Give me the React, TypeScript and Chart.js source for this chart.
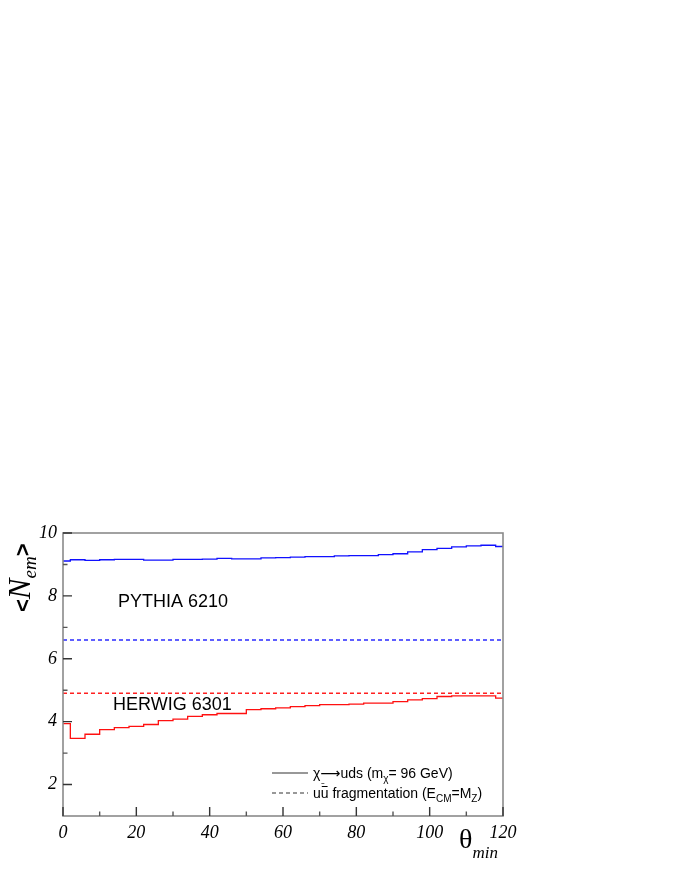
import React, { useEffect, useRef } from "react";
import { Chart, registerables } from "chart.js";

Chart.register(...registerables);

// Bin edges in theta_min (degrees); one value per bin
const thetaEdges = [0, 2, 6, 10, 14, 18, 22, 26, 30, 34, 38, 42, 46, 50, 54, 58, 62, 66, 70, 74, 78, 82, 86, 90, 94, 98, 102, 106, 110, 114, 118, 120];

const pythiaValues = [9.11, 9.15, 9.13, 9.15, 9.16, 9.16, 9.14, 9.14, 9.16, 9.16, 9.17, 9.19, 9.18, 9.18, 9.21, 9.22, 9.23, 9.25, 9.25, 9.27, 9.28, 9.28, 9.31, 9.34, 9.40, 9.47, 9.51, 9.56, 9.59, 9.61, 9.57];

const herwigValues = [3.94, 3.47, 3.60, 3.75, 3.81, 3.85, 3.91, 4.03, 4.08, 4.17, 4.22, 4.26, 4.26, 4.38, 4.41, 4.44, 4.48, 4.51, 4.54, 4.54, 4.56, 4.59, 4.59, 4.64, 4.69, 4.73, 4.80, 4.82, 4.82, 4.82, 4.75];

const pythiaFragmentation = 6.6;
const herwigFragmentation = 4.9;

const xRange = [0, 120];
const yRange = [1, 10];
const xMajorTicks = [0, 20, 40, 60, 80, 100, 120];
const xMinorTicks = [10, 30, 50, 70, 90, 110];
const yMajorTicks = [2, 4, 6, 8, 10];
const yMinorTicks = [3, 5, 7, 9];

const SANS = '"Liberation Sans", Arial, Helvetica, sans-serif';
const SERIF = '"Liberation Serif", "Times New Roman", Times, serif';
const SYMBOL = '"DejaVu Sans", sans-serif';

function stepPoints(values: number[]) {
  const pts = values.map((v, i) => ({ x: thetaEdges[i], y: v }));
  pts.push({ x: thetaEdges[thetaEdges.length - 1], y: values[values.length - 1] });
  return pts;
}

type Part = { t: string; font: string; dy?: number; overbar?: boolean };

function drawRich(ctx: CanvasRenderingContext2D, x: number, y: number, parts: Part[]) {
  let cx = x;
  const pos: number[] = [];
  for (const p of parts) {
    ctx.font = p.font;
    ctx.fillText(p.t, cx, y + (p.dy || 0));
    const w = ctx.measureText(p.t).width;
    if (p.overbar) {
      ctx.save();
      ctx.lineWidth = 1;
      ctx.beginPath();
      ctx.moveTo(cx + 1, y - 11.5);
      ctx.lineTo(cx + w - 1, y - 11.5);
      ctx.stroke();
      ctx.restore();
    }
    pos.push(cx);
    cx += w;
  }
  return pos;
}

const decorPlugin = {
  id: "decor",
  afterDatasetsDraw(chart: any) {
    const ctx: CanvasRenderingContext2D = chart.ctx;
    const { left, right, top, bottom } = chart.chartArea;
    const xs = chart.scales.x;
    const ys = chart.scales.y;
    ctx.save();
    // frame
    ctx.strokeStyle = "#8a8a8a";
    ctx.lineWidth = 1.6;
    ctx.strokeRect(left, top, right - left, bottom - top);

    // ticks (inward)
    ctx.lineWidth = 1.4;
    ctx.strokeStyle = "#333";
    ctx.beginPath();
    for (const v of yMajorTicks) {
      const p = ys.getPixelForValue(v);
      ctx.moveTo(left, p);
      ctx.lineTo(left + 9, p);
    }
    for (const v of xMajorTicks) {
      const p = xs.getPixelForValue(v);
      ctx.moveTo(p, bottom);
      ctx.lineTo(p, bottom - 9);
    }
    ctx.stroke();
    ctx.strokeStyle = "#555";
    ctx.beginPath();
    for (const v of yMinorTicks) {
      const p = ys.getPixelForValue(v);
      ctx.moveTo(left, p);
      ctx.lineTo(left + 4.5, p);
    }
    for (const v of xMinorTicks) {
      const p = xs.getPixelForValue(v);
      ctx.moveTo(p, bottom);
      ctx.lineTo(p, bottom - 4.5);
    }
    ctx.stroke();

    // generator labels
    ctx.fillStyle = "#000";
    ctx.textBaseline = "middle";
    ctx.textAlign = "left";
    ctx.font = `18px ${SANS}`;
    ctx.fillText("PYTHIA 6210", left + 55, top + 69);
    ctx.fillText("HERWIG 6301", left + 50, top + 172);

    // legend
    ctx.textBaseline = "alphabetic";
    const lx0 = left + 209;
    const lx1 = left + 245;
    const tx = left + 250;
    const ly1 = top + 240;
    const ly2 = top + 260;
    ctx.strokeStyle = "#333";
    ctx.lineWidth = 1.1;
    ctx.beginPath();
    ctx.moveTo(lx0, ly1);
    ctx.lineTo(lx1, ly1);
    ctx.stroke();
    ctx.setLineDash([4, 3]);
    ctx.beginPath();
    ctx.moveTo(lx0, ly2);
    ctx.lineTo(lx1, ly2);
    ctx.stroke();
    ctx.setLineDash([]);

    const f = `14px ${SANS}`;
    const fs = `10px ${SANS}`;
    ctx.fillStyle = "#000";
    const p1 = drawRich(ctx, tx, ly1 + 5, [
      { t: "\u03c7", font: f },
      { t: "\u27f6", font: `14px ${SYMBOL}` },
      { t: "uds (m", font: f },
      { t: "\u03c7", font: fs, dy: 4 },
      { t: "= 96 GeV)", font: f },
    ]);
    ctx.strokeStyle = "#666";
    ctx.lineWidth = 1;
    ctx.beginPath();
    ctx.moveTo(p1[1] + 1, ly1 + 10.5);
    ctx.lineTo(p1[1] + 4, ly1 + 10.5);
    ctx.stroke();
    ctx.strokeStyle = "#000";
    drawRich(ctx, tx, ly2 + 5, [
      { t: "u", font: f },
      { t: "u", font: f, overbar: true },
      { t: " fragmentation (E", font: f },
      { t: "CM", font: fs, dy: 4 },
      { t: "=M", font: f },
      { t: "Z", font: fs, dy: 4 },
      { t: ")", font: f },
    ]);

    // x axis title: theta_min
    ctx.fillStyle = "#000";
    drawRich(ctx, left + 396, bottom + 32, [
      { t: "\u03b8", font: `28px ${SERIF}` },
      { t: "min", font: `italic 17px ${SERIF}`, dy: 10 },
    ]);

    // y axis title: <N_em>
    ctx.save();
    ctx.translate(30, top + 79);
    ctx.rotate(-Math.PI / 2);
    drawRich(ctx, 0, 0, [
      { t: "<", font: `bold 22px ${SANS}` },
      { t: "N", font: `italic 31px ${SERIF}` },
      { t: "em", font: `italic 19px ${SERIF}`, dy: 6 },
      { t: ">", font: `bold 22px ${SANS}` },
    ]);
    ctx.restore();

    ctx.restore();
  },
};

export default function App() {
  const canvasRef = useRef<HTMLCanvasElement | null>(null);

  useEffect(() => {
    if (!canvasRef.current) return;
    const tickFont = { family: SERIF, size: 18, style: "italic" as const };
    const chart = new Chart(canvasRef.current, {
      type: "line",
      data: {
        datasets: [
          {
            label: "PYTHIA 6210",
            data: stepPoints(pythiaValues),
            borderColor: "#1010ff",
            borderWidth: 1.3,
            pointRadius: 0,
            stepped: true,
            fill: false,
          },
          {
            label: "HERWIG 6301",
            data: stepPoints(herwigValues),
            borderColor: "#ff1010",
            borderWidth: 1.3,
            pointRadius: 0,
            stepped: true,
            fill: false,
          },
          {
            label: "PYTHIA uu fragmentation",
            data: [
              { x: xRange[0], y: pythiaFragmentation },
              { x: xRange[1], y: pythiaFragmentation },
            ],
            borderColor: "#2a2aff",
            borderWidth: 1.5,
            borderDash: [4, 3],
            pointRadius: 0,
            fill: false,
          },
          {
            label: "HERWIG uu fragmentation",
            data: [
              { x: xRange[0], y: herwigFragmentation },
              { x: xRange[1], y: herwigFragmentation },
            ],
            borderColor: "#ff2020",
            borderWidth: 1.5,
            borderDash: [4, 3],
            pointRadius: 0,
            fill: false,
          },
        ],
      },
      options: {
        responsive: false,
        animation: false,
        events: [],
        layout: { padding: { top: 533, right: 177, left: 0, bottom: 0 } },
        plugins: {
          legend: { display: false },
          tooltip: { enabled: false },
        },
        scales: {
          x: {
            type: "linear",
            min: xRange[0],
            max: xRange[1],
            grid: { display: false, drawTicks: false },
            border: { display: false },
            ticks: { font: tickFont, color: "#000", padding: 6, maxRotation: 0 },
            afterBuildTicks: (s: any) => {
              s.ticks = xMajorTicks.map((v) => ({ value: v }));
            },
            afterFit: (s: any) => {
              s.height = 64;
            },
          },
          y: {
            type: "linear",
            min: yRange[0],
            max: yRange[1],
            grid: { display: false, drawTicks: false },
            border: { display: false },
            ticks: { font: tickFont, color: "#000", padding: 6 },
            afterBuildTicks: (s: any) => {
              s.ticks = yMajorTicks.map((v) => ({ value: v }));
            },
            afterFit: (s: any) => {
              s.width = 63;
            },
          },
        },
      },
      plugins: [decorPlugin],
    });
    return () => chart.destroy();
  }, []);

  return (
    <div style={{ position: "absolute", left: 0, top: 0, width: 680, height: 880, background: "#fff" }}>
      <canvas ref={canvasRef} width={680} height={880} style={{ display: "block" }} />
    </div>
  );
}
